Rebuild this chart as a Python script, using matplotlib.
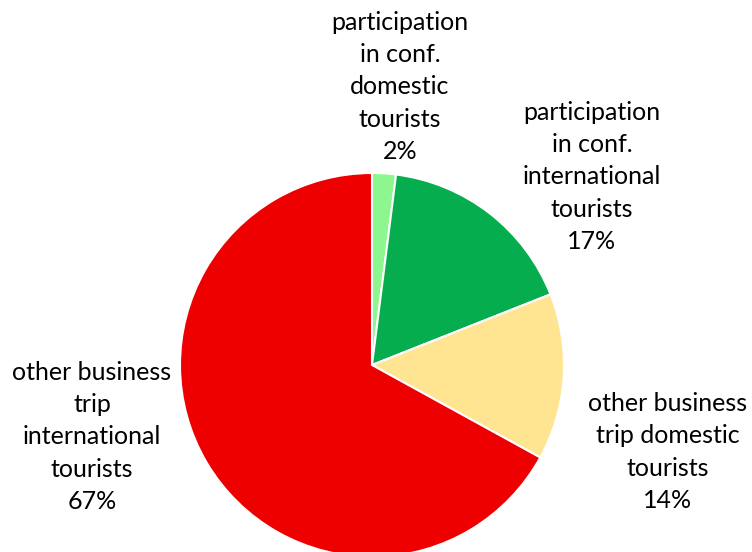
import matplotlib.pyplot as plt

labels = ['participation\nin conf.\ndomestic\ntourists\n2%',
          'participation\nin conf.\ninternational\ntourists\n17%',
          'other business\ntrip domestic\ntourists\n14%',
          'other business\ntrip\ninternational\ntourists\n67%']
values = [2, 17, 14, 67]
colors = ['#8EF68E', '#05AD4E', '#FFE592', '#EE0000']

# label centres in pixels (x, y from top), as placed in the original
label_pos = [(400, 87), (592, 177), (668, 452), (92, 437)]

fig = plt.figure(figsize=(7.52, 5.52), dpi=100)
ax = fig.add_axes([0, 0, 1, 1])

wedges, texts = ax.pie(values, labels=labels, colors=colors, startangle=90,
                       counterclock=False, center=(372, 552 - 365), radius=192,
                       wedgeprops=dict(edgecolor='white', linewidth=1.5),
                       frame=True)
ax.set_xlim(0, 752)
ax.set_ylim(0, 552)
ax.set_aspect('equal')
ax.axis('off')
for t, (px, py) in zip(texts, label_pos):
    t.set_position((px, 552 - py))
    t.set_ha('center')
    t.set_va('center')
    t.set_multialignment('center')
    t.set_fontfamily('Lato')
    t.set_fontsize(18)
    t.set_linespacing(1.48)
    t.set_color('#000000')

fig.savefig('out.png', dpi=100)
